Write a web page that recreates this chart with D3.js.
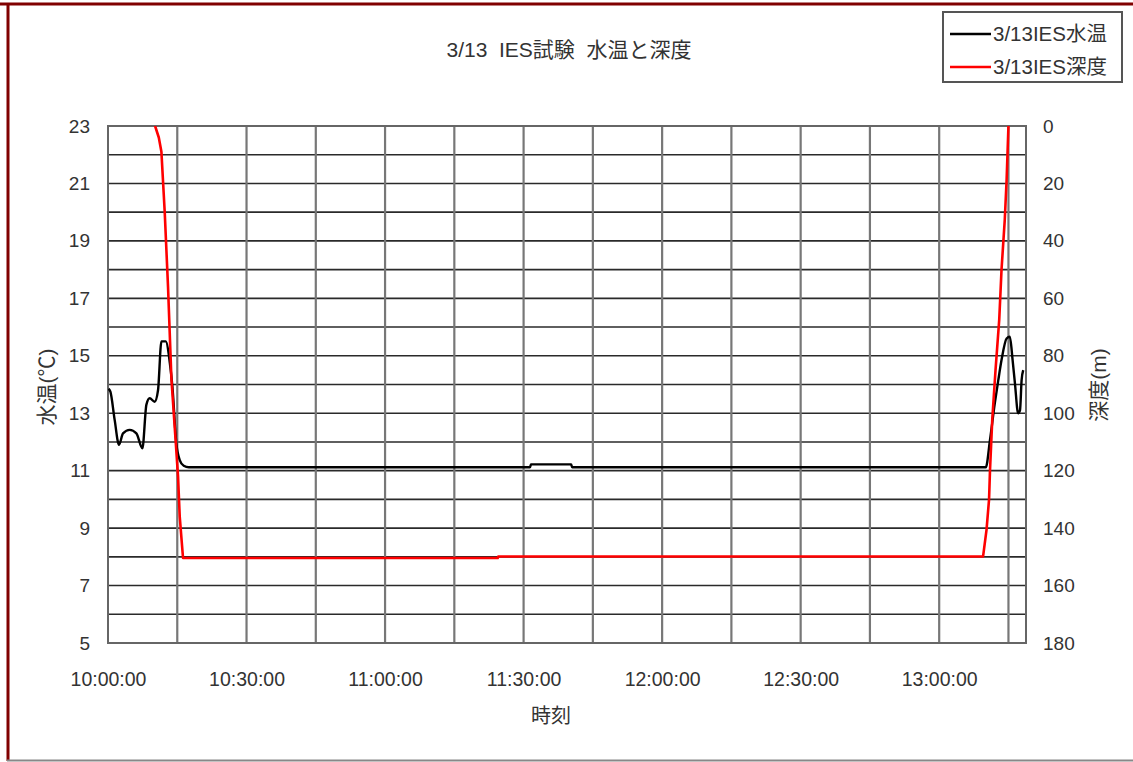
<!DOCTYPE html>
<html>
<head>
<meta charset="utf-8">
<script src="https://cdn.jsdelivr.net/npm/d3@7"></script>
<style>
  body { margin: 0; background: #fff; }
  text { font-family: "Liberation Sans", Arial, "Noto Sans CJK JP", sans-serif; fill: #333; }
</style>
</head>
<body>
<div id="chart"></div>
<script>
(function (d3) {
    "use strict";

    /***** Données *****/

    const chartTitle = "3/13  IES試験  水温と深度";
    const seriesNames = ["3/13IES水温", "3/13IES深度"];

    // 水温 (℃)
    const tempTimes = ["10:00:06", "10:00:31", "10:01:27", "10:02:23", "10:03:15", "10:04:42", "10:06:09",
        "10:07:27", "10:08:19", "10:09:02", "10:10:06", "10:10:50", "10:11:34", "10:12:30", "10:13:24",
        "10:13:57", "10:14:48", "10:15:32", "10:16:24", "10:17:30", "11:31:24", "11:31:36", "11:40:18",
        "11:40:30", "13:10:06", "13:11:00", "13:12:03", "13:12:48", "13:13:30", "13:14:36", "13:15:18",
        "13:15:54", "13:16:24", "13:17:06", "13:17:30", "13:17:51", "13:18:12"];
    const tempValues = [13.85, 13.75, 12.76, 11.9, 12.3, 12.42, 12.3,
        11.78, 13.3, 13.52, 13.4, 13.8, 15.5, 15.5, 14.74,
        13.92, 11.95, 11.37, 11.17, 11.12, 11.12, 11.22, 11.22,
        11.12, 11.12, 12.07, 13.35, 14.15, 14.85, 15.6, 15.66,
        14.85, 14.05, 13.0, 13.1, 14.15, 14.5];

    // 深度 (m)
    const depthTimes = ["10:09:18", "10:10:12", "10:11:00", "10:11:34", "10:12:17", "10:13:00", "10:13:44",
        "10:14:40", "10:15:10", "10:15:32", "10:16:15", "11:24:24", "11:24:30", "13:09:30", "13:10:15",
        "13:10:48", "13:11:00", "13:11:30", "13:12:12", "13:13:00", "13:13:30", "13:14:12", "13:14:36",
        "13:15:00", "13:15:18"];
    const depthValues = [-4, 0, 4, 9, 30, 56, 88,
        110, 122, 136, 150.4, 150.4, 149.9, 149.9, 140.6,
        130, 120, 102, 85, 67.5, 50, 32.7, 18.8,
        0, -6];

    const timeDomain = ["10:00:00", "13:18:48"];
    const timeLabels = ["10:00:00", "10:30:00", "11:00:00", "11:30:00", "12:00:00", "12:30:00", "13:00:00"];
    const tempTicks = [23, 21, 19, 17, 15, 13, 11, 9, 7, 5];
    const depthTicks = [0, 20, 40, 60, 80, 100, 120, 140, 160, 180];

    /***** Configuration *****/

    const width = 1133, height = 762;
    const plot = { left: 108, right: 1026, top: 126, bottom: 643 };

    const parse = d3.timeParse("%H:%M:%S");

    const svg = d3.select("#chart").append("svg")
        .attr("width", width)
        .attr("height", height);

    /***** Échelles *****/

    const x = d3.scaleTime()
        .domain(timeDomain.map(parse))
        .range([plot.left, plot.right]);
    const yTemp = d3.scaleLinear().domain([5, 23]).range([plot.bottom, plot.top]);
    const yDepth = d3.scaleLinear().domain([0, 180]).range([plot.top, plot.bottom]);

    // cadre extérieur
    svg.append("line").attr("x1", 0).attr("x2", width).attr("y1", 4).attr("y2", 4)
        .attr("stroke", "#800000").attr("stroke-width", 3);
    svg.append("line").attr("x1", 8).attr("x2", 8).attr("y1", 3).attr("y2", 761)
        .attr("stroke", "#800000").attr("stroke-width", 3);
    svg.append("line").attr("x1", 7).attr("x2", width).attr("y1", 760.5).attr("y2", 760.5)
        .attr("stroke", "#888").attr("stroke-width", 2);

    /***** Grille *****/

    const grid = svg.append("g");
    const hLines = d3.range(6, 23);
    grid.selectAll(".h").data(hLines).join("line")
        .attr("x1", plot.left).attr("x2", plot.right)
        .attr("y1", d => yTemp(d)).attr("y2", d => yTemp(d))
        .attr("stroke", "#2a2a2a").attr("stroke-width", 1.6);

    const vLines = x.ticks(d3.timeMinute.every(15))
        .filter(d => x(d) > plot.left + 1 && x(d) < plot.right - 1);
    grid.selectAll(".v").data(vLines).join("line")
        .attr("x1", d => x(d)).attr("x2", d => x(d))
        .attr("y1", plot.top).attr("y2", plot.bottom)
        .attr("stroke", "#777").attr("stroke-width", 2.2);

    svg.append("rect")
        .attr("x", plot.left).attr("y", plot.top)
        .attr("width", plot.right - plot.left).attr("height", plot.bottom - plot.top)
        .attr("fill", "none").attr("stroke", "#666").attr("stroke-width", 2);

    /***** Axes *****/

    const axisLeft = d3.axisLeft(yTemp).tickValues(tempTicks).tickSize(0).tickPadding(18);
    svg.append("g").attr("transform", "translate(" + plot.left + ",0)").call(axisLeft)
        .call(g => g.select(".domain").remove())
        .selectAll("text").attr("font-size", 19).style("fill", "#333");

    const axisRight = d3.axisRight(yDepth).tickValues(depthTicks).tickSize(0).tickPadding(17);
    svg.append("g").attr("transform", "translate(" + plot.right + ",0)").call(axisRight)
        .call(g => g.select(".domain").remove())
        .selectAll("text").attr("font-size", 19).style("fill", "#333");

    const axisBottom = d3.axisBottom(x).tickValues(timeLabels.map(parse))
        .tickFormat(d3.timeFormat("%H:%M:%S")).tickSize(0).tickPadding(29);
    svg.append("g").attr("transform", "translate(0," + plot.bottom + ")").call(axisBottom)
        .call(g => g.select(".domain").remove())
        .selectAll("text").attr("font-size", 19.5).style("fill", "#333");

    svg.selectAll(".tick text").attr("font-family", "'Liberation Sans', Arial, sans-serif");

    /***** Titres *****/

    svg.append("text").attr("x", 569).attr("y", 57).attr("text-anchor", "middle")
        .attr("font-size", 21).style("white-space", "pre").text(chartTitle);

    svg.append("text").attr("x", 551).attr("y", 723).attr("text-anchor", "middle")
        .attr("font-size", 20).text("時刻");

    svg.append("text").attr("transform", "translate(54,387) rotate(-90)")
        .attr("text-anchor", "middle").attr("font-size", 21).text("水温(℃)");

    svg.append("text").attr("transform", "translate(1106,385) rotate(-90)")
        .attr("text-anchor", "middle").attr("font-size", 21).text("深度(m)");

    /***** Séries *****/

    svg.append("clipPath").attr("id", "clip").append("rect")
        .attr("x", plot.left).attr("y", plot.top)
        .attr("width", plot.right - plot.left).attr("height", plot.bottom - plot.top);

    const tempData = tempTimes.map((t, i) => ({ t: parse(t), v: tempValues[i] }));
    const depthData = depthTimes.map((t, i) => ({ t: parse(t), v: depthValues[i] }));

    const series = svg.append("g").attr("clip-path", "url(#clip)");

    series.append("path").datum(tempData)
        .attr("fill", "none").attr("stroke", "#000").attr("stroke-width", 2.4)
        .attr("stroke-linejoin", "round")
        .attr("d", d3.line().x(d => x(d.t)).y(d => yTemp(d.v)).curve(d3.curveMonotoneX));

    series.append("path").datum(depthData)
        .attr("fill", "none").attr("stroke", "#ff0000").attr("stroke-width", 2.6)
        .attr("stroke-linejoin", "round")
        .attr("d", d3.line().x(d => x(d.t)).y(d => yDepth(d.v)));

    /***** Légende *****/

    const legend = svg.append("g");
    legend.append("rect").attr("x", 943).attr("y", 12).attr("width", 179).attr("height", 70)
        .attr("fill", "#fff").attr("stroke", "#555").attr("stroke-width", 2);
    const colors = ["#000", "#ff0000"];
    seriesNames.forEach((name, i) => {
        const ly = 34 + i * 33;
        legend.append("line").attr("x1", 950).attr("x2", 991).attr("y1", ly).attr("y2", ly)
            .attr("stroke", colors[i]).attr("stroke-width", 2.5);
        legend.append("text").attr("x", 993).attr("y", ly + 7).attr("font-size", 20.5).text(name);
    });

})(d3);
</script>
</body>
</html>
